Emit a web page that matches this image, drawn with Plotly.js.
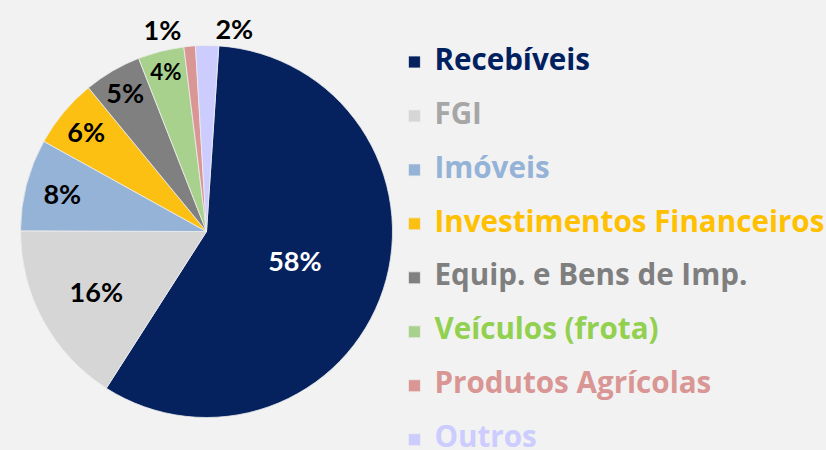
<!DOCTYPE html>
<html><head><meta charset="utf-8">
<script src="https://cdn.plot.ly/plotly-3.0.1.min.js"></script>
<style>body{margin:0;background:#f2f2f2}</style>
</head><body><div id="chart" style="width:826px;height:450px"></div>
<script>
const categories = ['Recebíveis','FGI','Imóveis','Investimentos Financeiros','Equip. e Bens de Imp.','Veículos (frota)','Produtos Agrícolas','Outros'];
const shares = [58,16,8,6,5,4,1,2];

const sliceColors = ['#05225f','#d6d6d6','#95b3d7','#fbc011','#808080','#a9d18e','#d99694','#ccccff'];
const legendTextColors = ['#002060','#a6a6a6','#95b3d7','#ffc000','#7f7f7f','#92d050','#d99694','#ccccff'];
const valueTextColors = ['#ffffff','#000000','#000000','#000000','#000000','#000000','#000000','#000000'];
const valueTextPlacement = ['inside','inside','inside','inside','inside','inside','outside','outside'];

const legendLabels = categories.map((c, i) =>
  `<span style="font-size:29.6px;font-family:'Open Sans';font-weight:bold;color:${legendTextColors[i]}">${c}</span><br>`);

const trace = {
  type: 'pie',
  labels: legendLabels,
  values: shares,
  sort: false,
  direction: 'clockwise',
  rotation: 3.8,
  marker: {colors: sliceColors, line: {color: '#eeeeee', width: 0.8}},
  texttemplate: '%{percent:.0%}',
  textposition: valueTextPlacement,
  insidetextorientation: 'horizontal',
  textfont: {family: 'Lato', size: 27, color: valueTextColors, weight: 'bold'},
  hoverinfo: 'label+percent',
  domain: {x: [0.0248, 0.4752], y: [0.0722, 0.8989]}
};

const layout = {
  width: 826, height: 450,
  margin: {l: 0, r: 0, t: 0, b: 0, autoexpand: false},
  paper_bgcolor: '#f2f2f2',
  plot_bgcolor: '#f2f2f2',
  showlegend: true,
  legend: {
    x: 0.4775, xanchor: 'left', y: 0.905, yanchor: 'top',
    valign: 'top',
    font: {family: 'Open Sans', size: 19.6, weight: 'bold'},
    bgcolor: 'rgba(0,0,0,0)'
  }
};

Plotly.newPlot('chart', [trace], layout, {displayModeBar: false});
</script></body></html>
